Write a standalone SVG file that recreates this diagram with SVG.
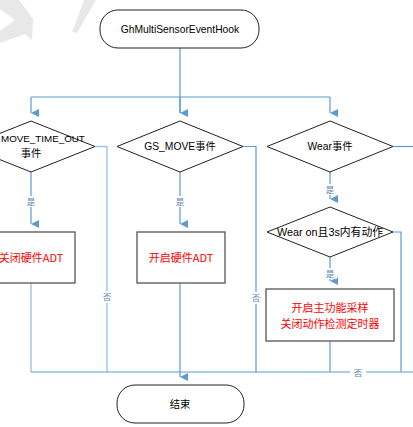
<svg xmlns="http://www.w3.org/2000/svg" width="413" height="427" viewBox="0 0 413 427">
<defs>
<marker id="ah" viewBox="0 0 8 8" refX="4" refY="8" markerWidth="8" markerHeight="8" markerUnits="userSpaceOnUse" orient="auto-start-reverse">
<path d="M0,0 L8,0 L4,8 Z" fill="#5B9BD5"/>
</marker>
</defs>
<style>
.c{fill:none;stroke:#5B9BD5;stroke-width:1.2}
.cl{fill:none;stroke:#9DC3E6;stroke-width:1.4}
.t{font-family:"Liberation Sans","Noto Sans CJK SC",sans-serif;font-size:10.3px;fill:#000;text-anchor:middle}
.r{font-family:"Noto Sans CJK SC",sans-serif;font-size:11px;fill:#FF0000;text-anchor:middle}
.lb{font-family:"Noto Sans CJK SC",sans-serif;font-size:8.5px;fill:#5B87B8;text-anchor:middle}
.term{fill:#fff;stroke:#222;stroke-width:1}
.dia{fill:#fff;stroke:#222;stroke-width:1}
.box{fill:#fff;stroke:#555;stroke-width:1.3}
.wm{fill:#E8E8E8}
</style>
<rect width="413" height="427" fill="#fff"/>
<g id="watermark">
<polygon class="wm" points="0,0 19,0 33,19 32,40 25,34 0,43 0,31 15,20 0,9"/>
<polygon class="wm" points="84,0 96,0 77,33 72,32"/>
</g>
<g id="connectors">
<path class="c" d="M180,48 V113"/>
<path class="c" d="M31,97 H330"/>
<path class="c" d="M31,97 V113" marker-end="url(#ah)"/>
<path class="c" d="M330,97 V113" marker-end="url(#ah)"/>
<path class="c" d="M180,97 V113" marker-end="url(#ah)"/>
<path class="c" d="M31,172 V224" marker-end="url(#ah)"/>
<path class="c" d="M180,172 V224" marker-end="url(#ah)"/>
<path class="c" d="M330,172 V199" marker-end="url(#ah)"/>
<path class="c" d="M330,257 V281" marker-end="url(#ah)"/>
<path class="cl" d="M95,146.5 H107 V372"/>
<path class="c" d="M243,146.5 H256 V372"/>
<path class="c" d="M393,146.5 H413"/>
<path class="c" d="M393,232 H401 V372"/>
<path class="cl" d="M31,283 V372"/>
<path class="c" d="M330,341 V372"/>
<path class="c" d="M31,372 H413"/>
<path class="c" d="M180,283 V377" marker-end="url(#ah)"/>
<rect x="99" y="291" width="16" height="12" fill="#fff"/>
<text class="lb" x="107" y="300">否</text>
<rect x="248" y="292" width="16" height="12" fill="#fff"/>
<text class="lb" x="256" y="301">否</text>
<rect x="350" y="367" width="16" height="11" fill="#fff"/>
<text class="lb" x="358" y="376">否</text>
<rect x="24" y="196" width="14" height="11" fill="#fff"/>
<text class="lb" x="31" y="205">是</text>
<rect x="173" y="196" width="14" height="11" fill="#fff"/>
<text class="lb" x="180" y="205">是</text>
<rect x="323" y="184" width="14" height="11" fill="#fff"/>
<text class="lb" x="330" y="193">是</text>
<rect x="323" y="268" width="14" height="11" fill="#fff"/>
<text class="lb" x="330" y="277">是</text>
</g>
<g id="start">
<rect class="term" x="100" y="10" width="159" height="38" rx="18"/>
<text class="t" x="180" y="33">GhMultiSensorEventHook</text>
</g>
<g id="d_timeout">
<polygon class="dia" points="31,121 95,146.5 31,172 -33,146.5"/>
<text class="t" x="1" y="142" style="text-anchor:start;font-size:9.8px">MOVE_TIME_OUT</text>
<text class="t" x="31" y="157">事件</text>
</g>
<g id="d_gsmove">
<polygon class="dia" points="180,121 243,146.5 180,172 117,146.5"/>
<text class="t" x="180" y="150">GS_MOVE事件</text>
</g>
<g id="d_wear">
<polygon class="dia" points="330,121 393,146.5 330,172 267,146.5"/>
<text class="t" x="330" y="150">Wear事件</text>
</g>
<g id="b_close">
<rect class="box" x="-13" y="232" width="88" height="51"/>
<text class="r" x="31" y="262">关闭硬件ADT</text>
</g>
<g id="b_open">
<rect class="box" x="137" y="232" width="88" height="51"/>
<text class="r" x="181" y="262">开启硬件ADT</text>
</g>
<g id="d_wearon">
<polygon class="dia" points="330,207 393,232 330,257 267,232"/>
<text class="t" x="330" y="236" style="font-size:10.8px">Wear on且3s内有动作</text>
</g>
<g id="b_main">
<rect class="box" x="266" y="289" width="128" height="52"/>
<text class="r" x="330" y="312">开启主功能采样</text>
<text class="r" x="330" y="328">关闭动作检测定时器</text>
</g>
<g id="end">
<rect class="term" x="117" y="385" width="127" height="38" rx="18"/>
<text class="t" x="180" y="408">结束</text>
</g>
</svg>
